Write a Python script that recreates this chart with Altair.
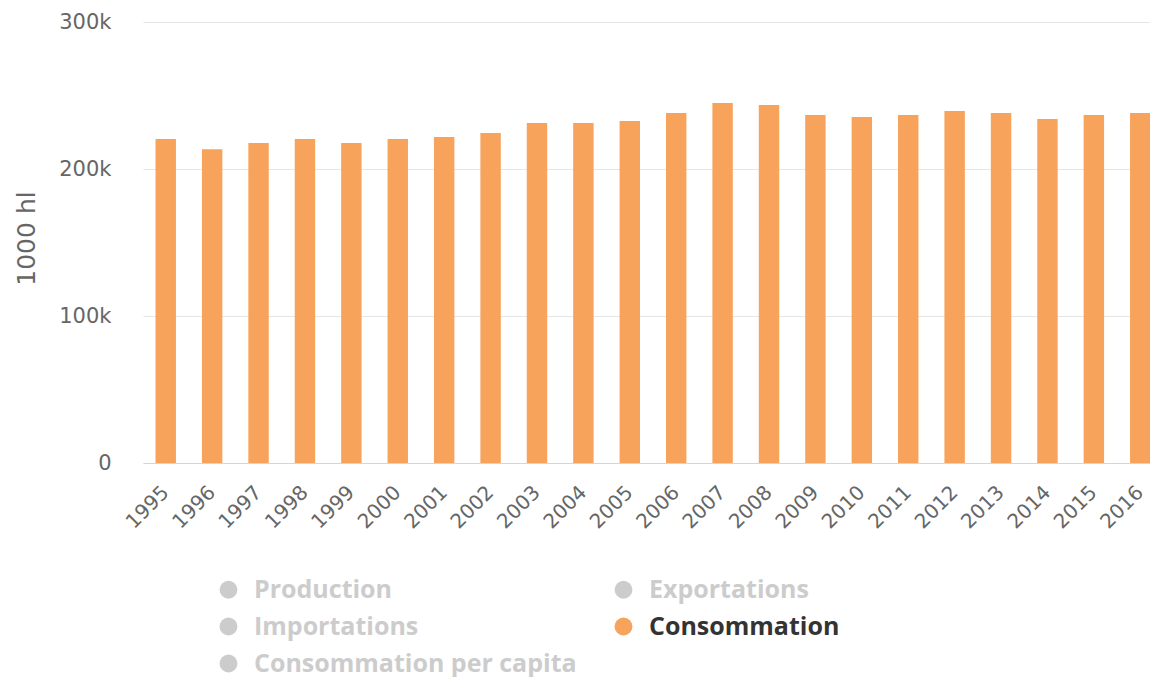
import altair as alt
import pandas as pd

years = [str(y) for y in range(1995, 2017)]
consommation = [220400, 213400, 217700, 220400, 217700, 220400, 221800, 224500,
                231300, 231300, 232700, 238100, 244900, 243500, 236700, 235400,
                236700, 239500, 238100, 234000, 236700, 238100]

series_names = ["Production", "Exportations", "Importations", "Consommation",
                "Consommation per capita"]
series_colors = ["#cccccc", "#cccccc", "#cccccc", "#f7a35c", "#cccccc"]
y_ticks = [0, 100000, 200000, 300000]

df = pd.DataFrame({"year": years, "value": consommation, "series": "Consommation"})

chart = alt.Chart(df).mark_bar(color="#f7a35c").encode(
    x=alt.X("year:O", title=None,
            scale=alt.Scale(paddingInner=0.56, paddingOuter=0.27),
            axis=alt.Axis(labelAngle=-45, labelAlign="right", labelBaseline="middle",
                          labelPadding=26, ticks=False, domainColor="#ccd6eb",
                          labelColor="#666666", labelFont="DejaVu Sans",
                          labelFontSize=20, grid=False)),
    y=alt.Y("value:Q", title="1000 hl",
            scale=alt.Scale(domain=[0, 300000], nice=False),
            axis=alt.Axis(values=y_ticks,
                          labelExpr="datum.value == 0 ? '0' : format(datum.value, '~s')",
                          domain=False, ticks=False,
                          gridColor="#e6e6e6", labelPadding=32, labelColor="#666666",
                          labelFont="DejaVu Sans", labelFontSize=21,
                          titleColor="#666666", titleFont="DejaVu Sans",
                          titleFontSize=25, titleFontWeight="normal",
                          titlePadding=19, titleY=216)),
    color=alt.Color("series:N",
                    scale=alt.Scale(domain=series_names, range=series_colors),
                    legend=alt.Legend(
                        title=None, orient="none", legendX=73, legendY=555,
                        columns=2, direction="horizontal", symbolType="circle",
                        symbolSize=320, symbolStrokeWidth=0, symbolOpacity=1,
                        labelFont="Open Sans", labelFontSize=25,
                        labelFontWeight="bold",
                        labelColor={"expr": "datum.label == 'Consommation' ? '#333333' : '#cccccc'"},
                        labelOffset=13, rowPadding=11, columnPadding=34,
                        padding=0, labelLimit=0)),
).properties(
    width=1020, height=441,
    autosize=alt.AutoSizeParams(type="none"),
    padding={"left": 135, "top": 14, "right": -13, "bottom": 214},
).configure_view(stroke=None)

chart.save("out.html", embed_options={"renderer": "svg", "actions": False})
